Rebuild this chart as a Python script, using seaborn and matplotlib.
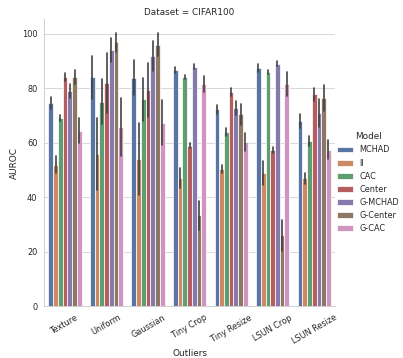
import matplotlib
matplotlib.use("Agg")
import matplotlib.pyplot as plt
import seaborn as sns
import pandas as pd

# categories
outliers = ["Texture", "Uniform", "Gaussian", "Tiny Crop", "Tiny Resize", "LSUN Crop", "LSUN Resize"]
models = ["MCHAD", "II", "CAC", "Center", "G-MCHAD", "G-Center", "G-CAC"]

# mean AUROC per model, one value per outlier set
mchad = [74.7, 84.1, 83.9, 86.7, 72.2, 87.3, 68.0]
ii = [51.9, 55.8, 54.0, 47.0, 50.2, 48.9, 46.9]
cac = [69.0, 75.1, 75.9, 84.2, 64.0, 85.9, 60.7]
center = [84.1, 82.0, 79.3, 58.9, 78.6, 57.3, 77.8]
g_mchad = [79.0, 94.0, 91.8, 87.9, 72.8, 89.0, 70.9]
g_center = [84.1, 96.9, 96.0, 33.3, 70.4, 26.0, 76.3]
g_cac = [64.4, 65.8, 67.3, 81.6, 60.2, 81.6, 57.4]

# half width of the error bars
mchad_err = [2.2, 7.9, 6.3, 1.2, 1.8, 1.5, 2.6]
ii_err = [3.2, 13.3, 13.1, 3.8, 1.5, 4.3, 2.0]
cac_err = [1.2, 8.3, 8.0, 0.7, 1.5, 0.7, 1.8]
center_err = [1.4, 11.0, 10.0, 0.9, 1.6, 1.0, 2.3]
g_mchad_err = [2.4, 4.5, 5.6, 0.9, 2.7, 1.0, 5.0]
g_center_err = [2.7, 3.4, 4.3, 5.3, 3.8, 5.7, 4.8]
g_cac_err = [4.5, 10.5, 8.3, 2.9, 3.4, 4.3, 3.5]

means = [mchad, ii, cac, center, g_mchad, g_center, g_cac]
errs = [mchad_err, ii_err, cac_err, center_err, g_mchad_err, g_center_err, g_cac_err]

# long form table: three runs per bar (low, mean, high)
rows = []
for model, m_list, e_list in zip(models, means, errs):
    for outlier, m, e in zip(outliers, m_list, e_list):
        for v in (m - e, m, m + e):
            rows.append({"Dataset": "CIFAR100", "Outliers": outlier, "Model": model, "AUROC": v})
df = pd.DataFrame(rows)

sns.set_theme(style="whitegrid")

g = sns.catplot(data=df, kind="bar", x="Outliers", y="AUROC", hue="Model",
                col="Dataset", order=outliers, hue_order=models,
                errorbar=("pi", 100), height=5)
g.set_xticklabels(rotation=30)

dpi = 53
g.figure.set_size_inches(403 / dpi, 358 / dpi)
g.figure.subplots_adjust(left=0.11, right=0.831, bottom=0.145, top=0.946)
sns.move_legend(g, "center left", bbox_to_anchor=(0.818, 0.49), frameon=False)
g.figure.savefig("out.png", dpi=dpi)
